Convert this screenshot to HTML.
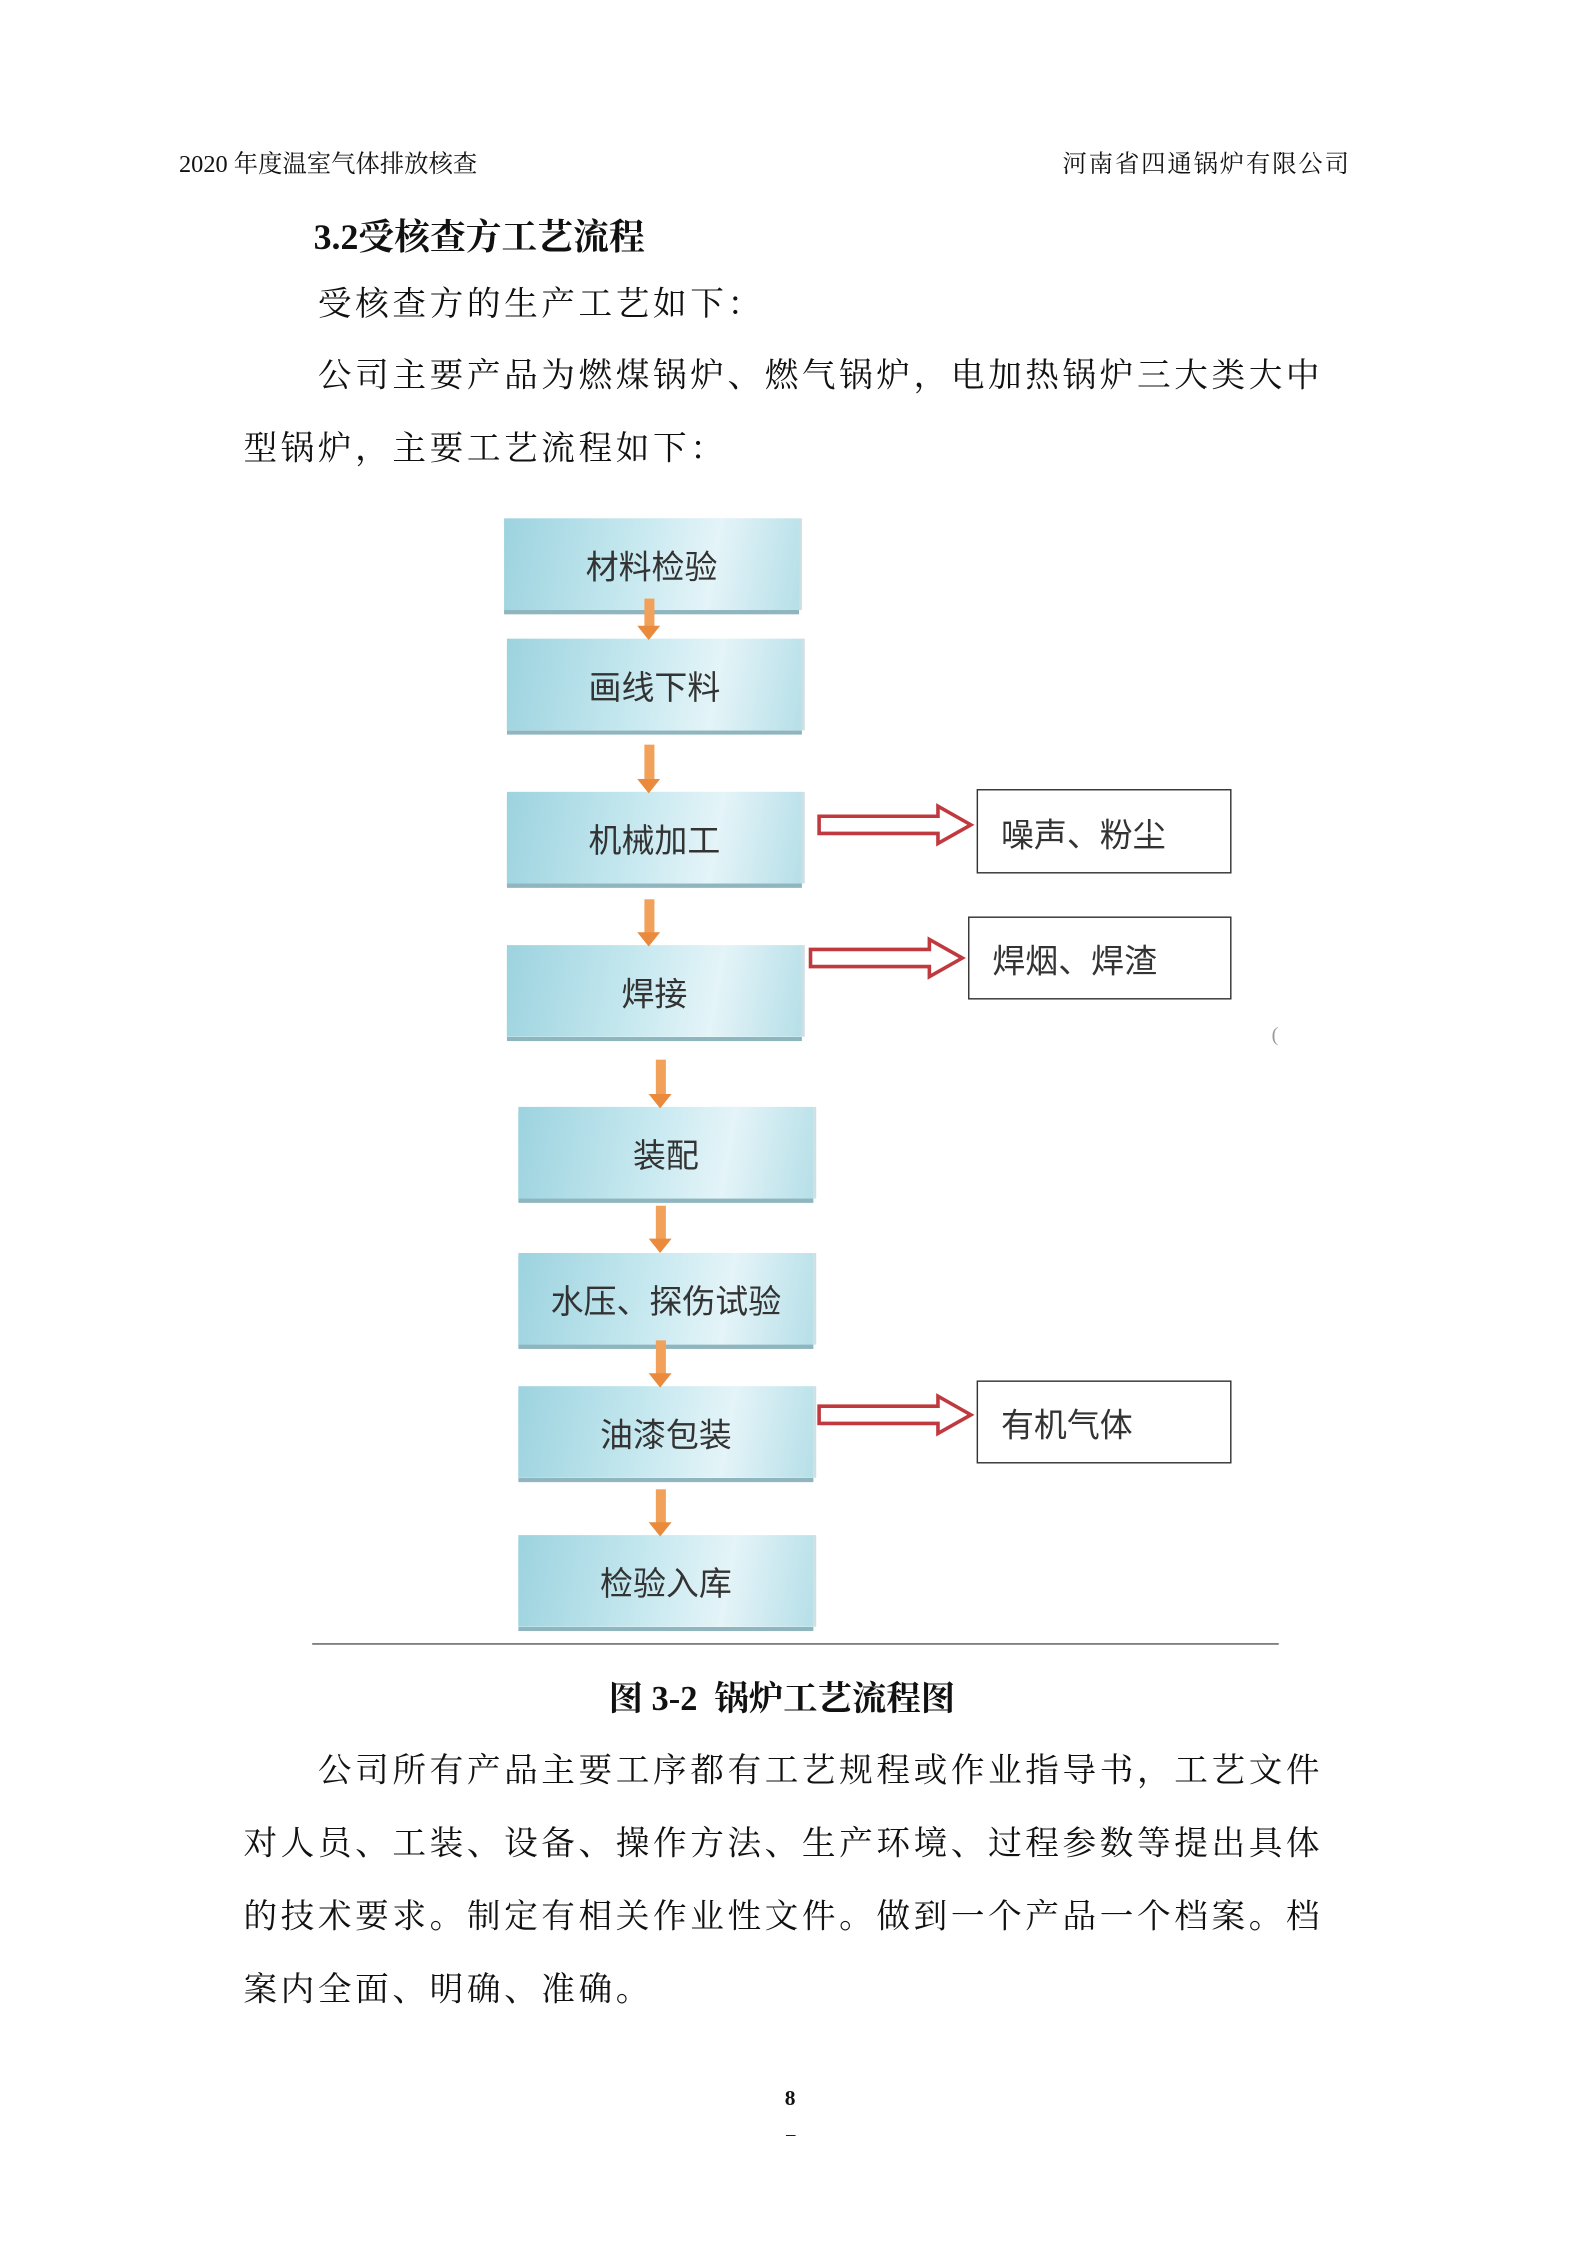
<!DOCTYPE html>
<html><head><meta charset="utf-8"><style>
html,body{margin:0;padding:0;background:#fff;}
body{width:1588px;height:2245px;overflow:hidden;position:relative;}
#w{position:absolute;left:0;top:0;width:1110px;height:1570px;transform:scale(1.432);transform-origin:0 0;font-family:"Liberation Serif","Noto Serif CJK SC","Noto Sans CJK SC",serif;color:#111;}
.t{position:absolute;white-space:nowrap;}
.p{font-size:23.5px;letter-spacing:2.5px;}
.b{position:absolute;width:206px;height:64px;background:linear-gradient(100deg,#9cd3df 0%,#c8e9f0 45%,#e4f4f8 70%,#b6dfe8 100%);box-shadow:0 3px 0 #8fb5bf,2px 0 0 #cfe0e4;display:flex;align-items:center;justify-content:center;font-size:23px;color:#333;font-family:"Noto Sans CJK SC",sans-serif;}
.r{position:absolute;border:1.5px solid #333;background:#fff;display:flex;align-items:center;font-size:23px;color:#333;padding-left:16px;box-sizing:border-box;font-family:"Noto Sans CJK SC",sans-serif;}
.oa{position:absolute;width:7px;background:#f2a15a;}
.oa:after{content:"";position:absolute;left:-5px;bottom:-9px;border-left:8.5px solid transparent;border-right:8.5px solid transparent;border-top:10px solid #e98a3c;}
</style></head><body><div id="w">
<div class="t" style="left:125px;top:100px;font-size:17px;">2020 年度温室气体排放核查</div>
<div class="t" style="left:742px;top:100px;font-size:17px;letter-spacing:1.3px;">河南省四通锅炉有限公司</div>
<div class="t" style="left:219px;top:146px;font-size:25px;font-weight:bold;">3.2受核查方工艺流程</div>
<div class="t p" style="left:222px;top:193px;">受核查方的生产工艺如下：</div>
<div class="t p" style="left:222px;top:243px;">公司主要产品为燃煤锅炉、燃气锅炉，电加热锅炉三大类大中</div>
<div class="t p" style="left:170px;top:294px;">型锅炉，主要工艺流程如下：</div>

<div class="b" style="left:352px;top:362px;">材料检验</div>
<div class="b" style="left:354px;top:446px;">画线下料</div>
<div class="b" style="left:354px;top:553px;">机械加工</div>
<div class="b" style="left:354px;top:660px;">焊接</div>
<div class="b" style="left:362px;top:773px;">装配</div>
<div class="b" style="left:362px;top:875px;">水压、探伤试验</div>
<div class="b" style="left:362px;top:968px;">油漆包装</div>
<div class="b" style="left:362px;top:1072px;">检验入库</div>

<div class="oa" style="left:450px;top:418px;height:20px;"></div>
<div class="oa" style="left:450px;top:520px;height:25px;"></div>
<div class="oa" style="left:450px;top:628px;height:24px;"></div>
<div class="oa" style="left:458px;top:740px;height:25px;"></div>
<div class="oa" style="left:458px;top:842px;height:24px;"></div>
<div class="oa" style="left:458px;top:936px;height:24px;"></div>
<div class="oa" style="left:458px;top:1040px;height:24px;"></div>

<div class="r" style="left:682px;top:551px;width:178px;height:59px;">噪声、粉尘</div>
<div class="r" style="left:676px;top:640px;width:184px;height:58px;">焊烟、焊渣</div>
<div class="r" style="left:682px;top:964px;width:178px;height:58px;">有机气体</div>

<svg style="position:absolute;left:0;top:0" width="1110" height="1570">
<g fill="#fff" stroke="#c0393f" stroke-width="2.5">
<polygon points="572,570 655,570 655,563 678,576 655,589 655,582 572,582"/>
<polygon points="566,663 649,663 649,656 672,669 649,682 649,675 566,675"/>
<polygon points="572,982 655,982 655,975 678,988 655,1001 655,994 572,994"/>
</g>
<line x1="218" y1="1148" x2="893" y2="1148" stroke="#555" stroke-width="1"/>
<text x="888" y="727" font-size="14" fill="#999">(</text>
</svg>

<div class="t" style="left:425px;top:1166px;font-size:24px;font-weight:bold;">图 3-2&nbsp; 锅炉工艺流程图</div>
<div class="t p" style="left:222px;top:1217px;">公司所有产品主要工序都有工艺规程或作业指导书，工艺文件</div>
<div class="t p" style="left:170px;top:1268px;">对人员、工装、设备、操作方法、生产环境、过程参数等提出具体</div>
<div class="t p" style="left:170px;top:1319px;">的技术要求。制定有相关作业性文件。做到一个产品一个档案。档</div>
<div class="t p" style="left:170px;top:1370px;">案内全面、明确、准确。</div>
<div class="t" style="left:548px;top:1458px;font-size:15px;font-weight:bold;">8</div>
<div class="t" style="left:549px;top:1478px;font-size:13px;">_</div>
</div></body></html>
